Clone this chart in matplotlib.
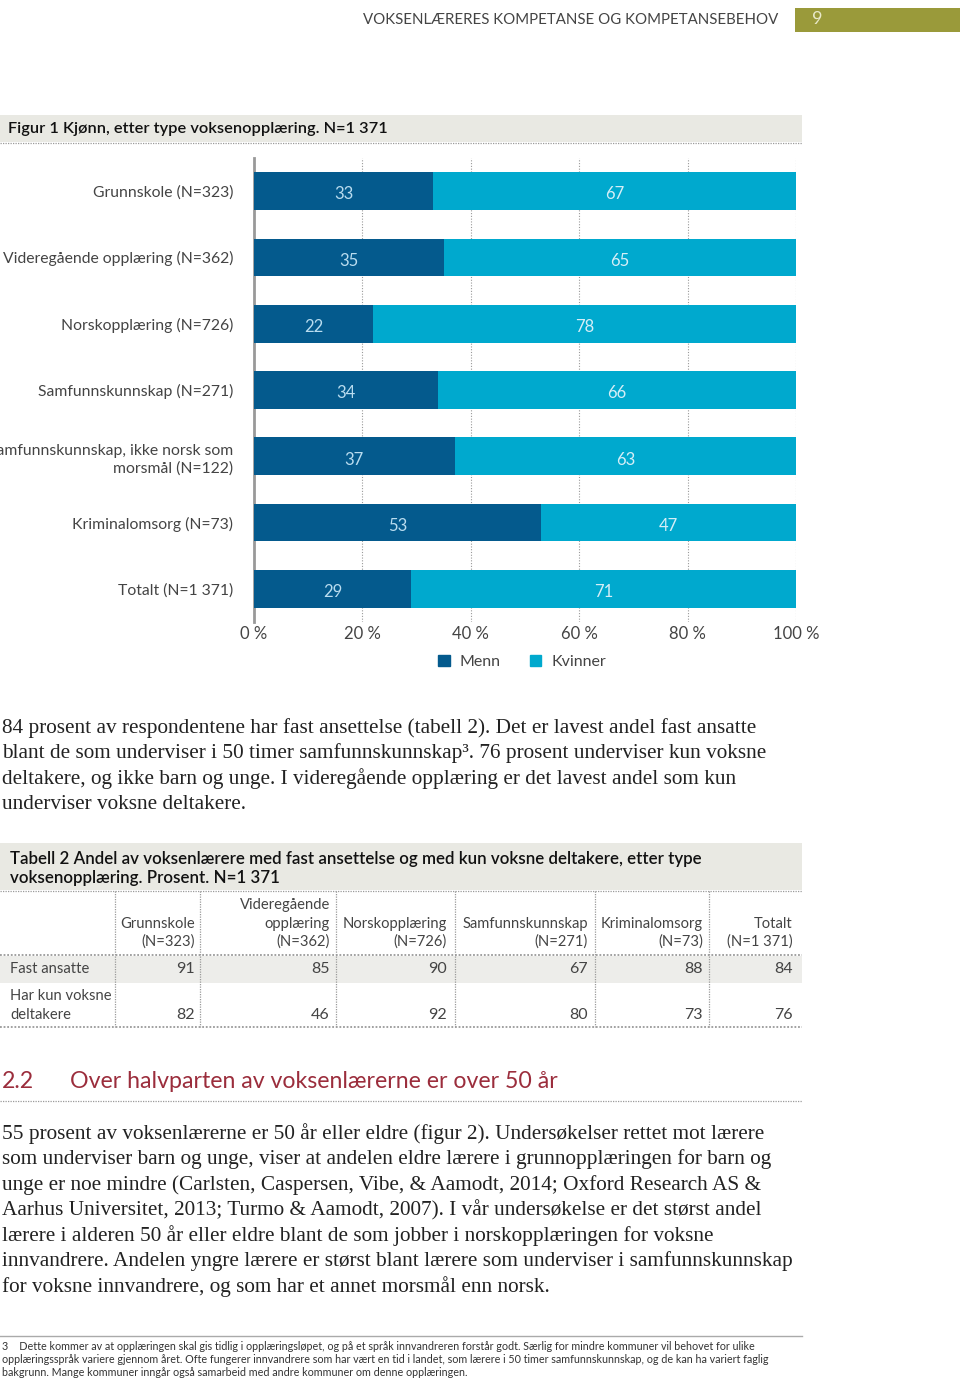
import matplotlib
matplotlib.use("Agg")
import matplotlib.pyplot as plt
from matplotlib.patches import Rectangle, Patch

W, H = 960, 1382
SANS = ['Lato', 'DejaVu Sans']
SERIF = ['Liberation Serif', 'DejaVu Serif']

DARK = '#045a8d'
LIGHT = '#00a9ce'
BAND = '#e9e9e3'
GRID = '#9a9a9a'

# ---- figure 1 data
categories = ['Grunnskole (N=323)', 'Videregående opplæring (N=362)', 'Norskopplæring (N=726)',
              'Samfunnskunnskap (N=271)', 'Samfunnskunnskap, ikke norsk som\nmorsmål (N=122)',
              'Kriminalomsorg (N=73)', 'Totalt (N=1 371)']
menn = [33, 35, 22, 34, 37, 53, 29]
kvinner = [67, 65, 78, 66, 63, 47, 71]
xticks = [0, 20, 40, 60, 80, 100]
xticklabels = ['0 %', '20 %', '40 %', '60 %', '80 %', '100 %']

# ---- table 2 data
tab_cols = [['Grunnskole', '(N=323)'], ['Videregående', 'opplæring', '(N=362)'],
            ['Norskopplæring', '(N=726)'], ['Samfunnskunnskap', '(N=271)'],
            ['Kriminalomsorg', '(N=73)'], ['Totalt', '(N=1 371)']]
fast_ansatte = [91, 85, 90, 67, 88, 84]
kun_voksne = [82, 46, 92, 80, 73, 76]

para1 = ["84 prosent av respondentene har fast ansettelse (tabell 2). Det er lavest andel fast ansatte",
         "blant de som underviser i 50 timer samfunnskunnskap³. 76 prosent underviser kun voksne",
         "deltakere, og ikke barn og unge. I videregående opplæring er det lavest andel som kun",
         "underviser voksne deltakere."]
para2 = ["55 prosent av voksenlærerne er 50 år eller eldre (figur 2). Undersøkelser rettet mot lærere",
         "som underviser barn og unge, viser at andelen eldre lærere i grunnopplæringen for barn og",
         "unge er noe mindre (Carlsten, Caspersen, Vibe, & Aamodt, 2014; Oxford Research AS &",
         "Aarhus Universitet, 2013; Turmo & Aamodt, 2007). I vår undersøkelse er det størst andel",
         "lærere i alderen 50 år eller eldre blant de som jobber i norskopplæringen for voksne",
         "innvandrere. Andelen yngre lærere er størst blant lærere som underviser i samfunnskunnskap",
         "for voksne innvandrere, og som har et annet morsmål enn norsk."]
footnote = ["3    Dette kommer av at opplæringen skal gis tidlig i opplæringsløpet, og på et språk innvandreren forstår godt. Særlig for mindre kommuner vil behovet for ulike",
            "opplæringsspråk variere gjennom året. Ofte fungerer innvandrere som har vært en tid i landet, som lærere i 50 timer samfunnskunnskap, og de kan ha variert faglig",
            "bakgrunn. Mange kommuner inngår også samarbeid med andre kommuner om denne opplæringen."]

fig = plt.figure(figsize=(W / 100, H / 100), dpi=100)
fig.patch.set_facecolor('white')

# page axes in pixel coordinates (y downwards)
page = fig.add_axes([0, 0, 1, 1])
page.set_xlim(0, W)
page.set_ylim(H, 0)
page.axis('off')


def dotted(x0, x1, y0, y1, lw=0.9):
    page.plot([x0, x1], [y0, y1], color=GRID, lw=lw, ls=(0, (1, 1)))


# header
page.text(778, 20, 'VOKSENLÆRERES KOMPETANSE OG KOMPETANSEBEHOV', ha='right', va='center',
          family=SANS, fontsize=10.8, color='#444444')
page.add_patch(Rectangle((795, 8), 165, 24, color='#9a9a3a', lw=0))
page.text(812, 19, '9', ha='left', va='center', family=SANS, fontsize=13, color='#e8e8c8')

# figure title
page.add_patch(Rectangle((0, 115), 802, 27, color=BAND, lw=0))
dotted(0, 802, 143, 143)
page.text(8, 129, 'Figur 1 Kjønn, etter type voksenopplæring. N=1 371', ha='left', va='center',
          family=SANS, fontsize=11.8, fontweight='semibold', color='#111111')

# bar chart
ax = fig.add_axes([254 / W, 1 - 622 / H, 542 / W, 464 / H])
ax.set_facecolor('none')
rows = list(range(len(categories)))
ax.barh(rows, menn, height=0.57, color=DARK, zorder=3)
ax.barh(rows, kvinner, left=menn, height=0.57, color=LIGHT, zorder=3)
for r, m, k in zip(rows, menn, kvinner):
    ax.text(m / 2, r + 0.05, str(m), ha='center', va='center', color='#b9dcef',
            family=SANS, fontsize=12, zorder=4)
    ax.text(m + k / 2, r + 0.05, str(k), ha='center', va='center', color='#d5eef7',
            family=SANS, fontsize=12, zorder=4)
ax.set_xlim(0, 100)
ax.set_ylim(6.5, -0.5)
for x in xticks[1:]:
    ax.axvline(x, color=GRID, lw=0.8, ls=(0, (1, 1.5)), zorder=1)
for s in ['top', 'right', 'bottom']:
    ax.spines[s].set_visible(False)
ax.spines['left'].set_color('#999999')
ax.spines['left'].set_linewidth(2)
ax.set_xticks(xticks)
ax.set_xticklabels(xticklabels, family=SANS, fontsize=12, color='#444444')
ax.tick_params(axis='x', length=0, pad=3)
ax.set_yticks(rows)
ax.set_yticklabels(categories, family=SANS, fontsize=11.3, color='#444444', linespacing=1.3)
ax.tick_params(axis='y', length=0, pad=15)

ax.legend(handles=[Patch(color=DARK, label='Menn'), Patch(color=LIGHT, label='Kvinner')],
          loc='center', bbox_to_anchor=(522 / W, 1 - 662 / H), bbox_transform=fig.transFigure,
          ncol=2, frameon=False, prop={'family': SANS, 'size': 11.5}, handlelength=0.75,
          handleheight=0.75, handletextpad=0.6, columnspacing=1.8, labelcolor='#444444')

# paragraph 1
for i, line in enumerate(para1):
    page.text(2, 728 + i * 25.4, line, ha='left', va='center', family=SERIF, fontsize=15.3,
              color='#222222')

# table 2
page.add_patch(Rectangle((0, 843), 802, 47, color=BAND, lw=0))
page.text(10, 859, 'Tabell 2 Andel av voksenlærere med fast ansettelse og med kun voksne deltakere, etter type',
          ha='left', va='center', family=SANS, fontsize=12.2, fontweight='semibold', color='#111111')
page.text(10, 878, 'voksenopplæring. Prosent. N=1 371', ha='left', va='center', family=SANS,
          fontsize=12.2, fontweight='semibold', color='#111111')
dotted(0, 802, 891, 891)
col_right = [195, 330, 447, 588, 703, 793]
col_sep = [115, 200, 336, 455, 595, 709]
page.add_patch(Rectangle((0, 956), 802, 27, color='#ededea', lw=0))
dotted(0, 802, 955, 955, lw=1.3)
dotted(0, 802, 1027, 1027, lw=1.3)
for xs in col_sep:
    dotted(xs, xs, 891, 1027)
for xr, lines in zip(col_right, tab_cols):
    n = len(lines)
    for j, t in enumerate(lines):
        page.text(xr, 942 - (n - 1 - j) * 18.5, t, ha='right', va='center', family=SANS,
                  fontsize=10.6, color='#444444')
page.text(10, 969, 'Fast ansatte', ha='left', va='center', family=SANS, fontsize=10.6, color='#444444')
page.text(10, 996, 'Har kun voksne', ha='left', va='center', family=SANS, fontsize=10.6, color='#444444')
page.text(10, 1015, 'deltakere', ha='left', va='center', family=SANS, fontsize=10.6, color='#444444')
for xr, a, b in zip(col_right, fast_ansatte, kun_voksne):
    page.text(xr, 969, str(a), ha='right', va='center', family=SANS, fontsize=11.5, color='#444444')
    page.text(xr, 1015, str(b), ha='right', va='center', family=SANS, fontsize=11.5, color='#444444')

# section heading
page.text(2, 1081, '2.2', ha='left', va='center', family=SANS, fontsize=16.7, color='#9b2d3c')
page.text(70, 1081, 'Over halvparten av voksenlærerne er over 50 år', ha='left', va='center',
          family=SANS, fontsize=16.7, color='#9b2d3c')
dotted(0, 802, 1101, 1101)

# paragraph 2
for i, line in enumerate(para2):
    page.text(2, 1134 + i * 25.4, line, ha='left', va='center', family=SERIF, fontsize=15.3,
              color='#222222')

# footnote
page.plot([0, 802], [1336, 1336], color='#aaaaaa', lw=1)
for i, line in enumerate(footnote):
    page.text(2, 1346 + i * 13.2, line, ha='left', va='center', family=SANS, fontsize=7.75,
              color='#333333')

fig.savefig('out.png', dpi=100)
